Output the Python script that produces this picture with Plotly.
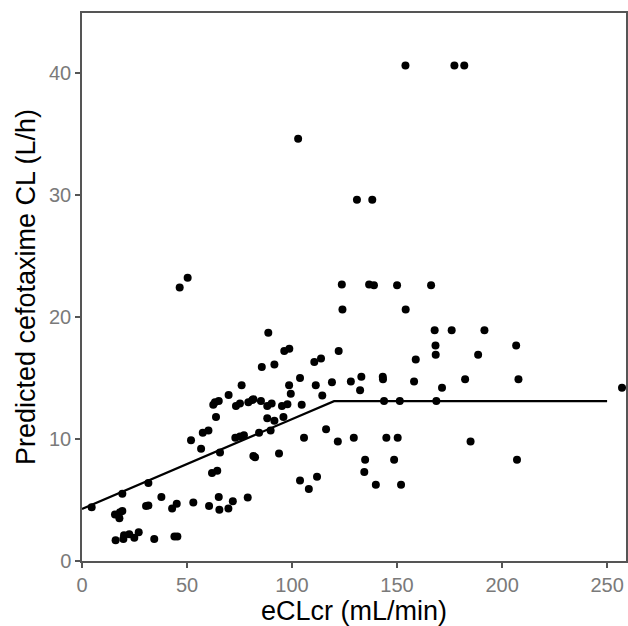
import plotly.graph_objects as go

# observed points: eCLcr (mL/min) vs predicted cefotaxime CL (L/h)
eclcr = [
    46.5, 50.3, 88.7, 85.6, 91.6, 76.0, 69.8, 62.5, 63.3, 65.1,
    73.3, 75.2, 79.2, 81.1, 81.6, 85.2, 88.2, 90.3, 95.2, 97.8,
    104.6, 63.8, 88.2, 91.6, 95.9, 60.2, 57.5, 51.9, 56.7, 65.7,
    73.0, 75.2, 77.1, 84.3, 89.8, 81.6, 82.4, 93.8, 61.9, 64.4,
    4.6, 19.2, 31.6, 37.8, 30.5, 31.6, 42.9, 45.1, 53.0, 60.5,
    65.1, 65.4, 69.7, 71.8, 78.9, 15.7, 18.1, 19.2, 17.8, 16.0,
    19.7, 20.0, 22.5, 24.9, 27.0, 34.4, 44.0, 45.4,
    123.7, 136.7, 139.0, 150.0, 166.2, 124.0, 154.1, 167.9, 176.0, 168.3,
    168.4, 158.9, 122.2, 110.6, 113.8, 96.3, 98.7, 103.8, 98.6, 99.4,
    111.3, 114.4, 119.0, 128.0, 133.0, 132.4, 143.2, 143.3, 158.1, 171.4,
    182.4, 143.8, 151.3, 168.7, 105.7, 116.2, 121.8, 129.4, 144.9, 150.3,
    185.0, 134.8, 148.6, 134.4, 103.8, 111.9, 108.0, 139.9, 151.9,
    191.6, 206.7, 188.6, 207.8, 257.1, 207.1,
    154.0, 177.3, 182.0, 102.9, 130.9, 138.2,
]
pred_cl = [
    22.4, 23.2, 18.7, 15.9, 16.1, 14.4, 13.6, 12.8, 13.0, 13.1,
    12.7, 12.9, 13.0, 13.2, 13.25, 13.1, 12.7, 12.9, 12.7, 12.85,
    12.8, 11.8, 11.7, 11.5, 11.8, 10.7, 10.5, 9.9, 9.2, 8.9,
    10.1, 10.2, 10.3, 10.5, 10.7, 8.6, 8.5, 8.8, 7.2, 7.4,
    4.4, 5.5, 6.4, 5.25, 4.5, 4.55, 4.3, 4.7, 4.8, 4.5,
    5.25, 4.2, 4.3, 4.9, 5.2, 3.8, 4.0, 4.1, 3.5, 1.7,
    1.8, 2.1, 2.2, 1.9, 2.35, 1.8, 2.0, 2.0,
    22.65, 22.65, 22.6, 22.6, 22.6, 20.6, 20.6, 18.9, 18.9, 17.65,
    16.9, 16.5, 17.2, 16.3, 16.6, 17.2, 17.4, 15.0, 14.4, 13.7,
    14.4, 13.55, 14.65, 14.7, 15.1, 14.0, 15.1, 14.9, 14.7, 14.2,
    14.9, 13.1, 13.1, 13.1, 10.1, 10.8, 9.8, 10.1, 10.1, 10.1,
    9.8, 8.3, 8.3, 7.3, 6.6, 6.9, 5.9, 6.25, 6.25,
    18.9, 17.65, 16.9, 14.9, 14.2, 8.3,
    40.6, 40.6, 40.6, 34.6, 29.6, 29.6,
]

# fitted relationship (linear up to 120 mL/min, then plateau)
fit_x = [0, 120, 250]
fit_y = [4.27, 13.1, 13.1]

fig = go.Figure()

fig.add_trace(go.Scatter(x=eclcr, y=pred_cl, mode='markers',
                         marker=dict(color='black', size=8, line=dict(width=0)),
                         showlegend=False))

fig.add_trace(go.Scatter(x=fit_x, y=fit_y, mode='lines',
                         line=dict(color='black', width=2.2),
                         showlegend=False))

axis_style = dict(
    showgrid=False, zeroline=False,
    showline=True, linecolor='#555555', linewidth=1.5, mirror=True,
    ticks='outside', ticklen=5, tickwidth=1.5, tickcolor='#555555',
    tickfont=dict(size=20, color='#7a7a7a'),
)

fig.update_layout(
    width=628, height=626,
    margin=dict(l=82, r=2, t=13, b=65, autoexpand=False),
    plot_bgcolor='white', paper_bgcolor='white',
    font=dict(family='Liberation Sans, Arial, sans-serif', color='black'),
    xaxis=dict(range=[0, 259], tickvals=[0, 50, 100, 150, 200, 250],
               title=dict(text='eCLcr (mL/min)', font=dict(size=27), standoff=0),
               **axis_style),
    yaxis=dict(range=[0, 44.9], tickvals=[0, 10, 20, 30, 40],
               title=dict(text='Predicted cefotaxime CL (L/h)', font=dict(size=27), standoff=6),
               **axis_style),
)

fig.write_html("out.html", config={'displayModeBar': False},
               post_script="document.body.style.margin='0px';")
